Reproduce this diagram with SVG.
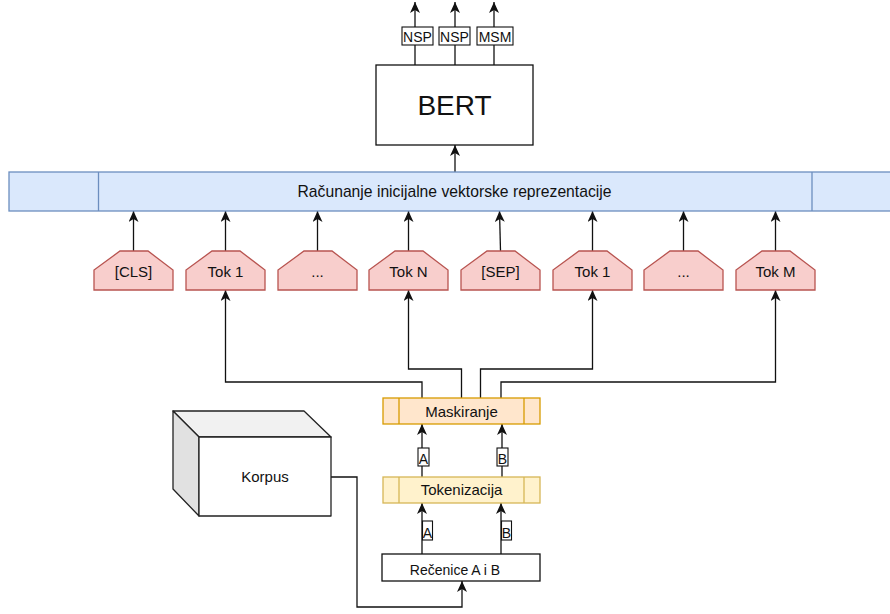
<svg xmlns="http://www.w3.org/2000/svg" width="890" height="614" viewBox="0 0 890 614">
  <style>
    text { font-family: "Liberation Sans", Arial, Helvetica, sans-serif; fill: #111; text-anchor: middle; }
    .t15 { font-size: 15px; }
    .t14 { font-size: 14px; }
    .edge { fill: none; stroke: #111; stroke-width: 1.3; }
    .tok { fill: #f8cecc; stroke: #b85450; stroke-width: 1.3; }
    .lbl { fill: #fff; stroke: #111; stroke-width: 1.1; }
    .box { fill: #fff; stroke: #111; stroke-width: 1.3; }
  </style>
  <defs>
    <marker id="arrow" viewBox="0 0 12 10" refX="11" refY="5" markerWidth="12" markerHeight="10" markerUnits="userSpaceOnUse" orient="auto">
      <path d="M0,0 L11,5 L0,10 L3,5 Z" fill="#111"/>
    </marker>
    <path id="tokShape" d="M0,39 V19 L26,0 H54 L79,19 V39 Z"/>
  </defs>

  <!-- connectors -->
  <g id="connectors">
    <!-- BERT outputs -->
    <path class="edge" d="M415,65 V2" marker-end="url(#arrow)"/>
    <path class="edge" d="M455,65 V2" marker-end="url(#arrow)"/>
    <path class="edge" d="M494,65 V2" marker-end="url(#arrow)"/>
    <!-- embedding layer to BERT -->
    <path class="edge" d="M455,172 V145" marker-end="url(#arrow)"/>
    <!-- tokens to embedding layer -->
    <path class="edge" d="M133.5,251 V211" marker-end="url(#arrow)"/>
    <path class="edge" d="M225.5,251 V211" marker-end="url(#arrow)"/>
    <path class="edge" d="M317.5,251 V211" marker-end="url(#arrow)"/>
    <path class="edge" d="M408.5,251 V211" marker-end="url(#arrow)"/>
    <path class="edge" d="M500.5,251 L499.5,211" marker-end="url(#arrow)"/>
    <path class="edge" d="M592.5,251 V211" marker-end="url(#arrow)"/>
    <path class="edge" d="M683.5,251 V211" marker-end="url(#arrow)"/>
    <path class="edge" d="M775.5,251 V211" marker-end="url(#arrow)"/>
    <!-- masking to tokens -->
    <path class="edge" d="M422,398 V382 H225.5 V290" marker-end="url(#arrow)"/>
    <path class="edge" d="M461.5,398 V369 H408.5 V290" marker-end="url(#arrow)"/>
    <path class="edge" d="M480.5,398 V369 H592.5 V290" marker-end="url(#arrow)"/>
    <path class="edge" d="M501,398 V382 H775.5 V290" marker-end="url(#arrow)"/>
    <!-- tokenization to masking -->
    <path class="edge" d="M422,477 V424" marker-end="url(#arrow)"/>
    <path class="edge" d="M502,477 V424" marker-end="url(#arrow)"/>
    <!-- sentences to tokenization -->
    <path class="edge" d="M422,554 V503" marker-end="url(#arrow)"/>
    <path class="edge" d="M501,554 V503" marker-end="url(#arrow)"/>
    <!-- corpus to sentences -->
    <path class="edge" d="M331,477 H357 V607 H462 V581" marker-end="url(#arrow)"/>

    <!-- edge labels -->
    <rect class="lbl" x="402" y="27" width="31" height="18"/>
    <text class="t14" x="417.5" y="41.5">NSP</text>
    <rect class="lbl" x="439" y="27" width="31" height="18"/>
    <text class="t14" x="454.5" y="41.5">NSP</text>
    <rect class="lbl" x="477" y="27" width="36" height="18"/>
    <text class="t14" x="495" y="41.5">MSM</text>

    <rect class="lbl" x="418" y="448" width="11" height="18"/>
    <text class="t14" x="423.5" y="463.5">A</text>
    <rect class="lbl" x="497" y="448" width="11" height="18"/>
    <text class="t14" x="502.5" y="463.5">B</text>

    <rect class="lbl" x="422.5" y="521" width="10" height="19"/>
    <text class="t14" x="427.5" y="537.5">A</text>
    <rect class="lbl" x="501.5" y="521" width="10" height="19"/>
    <text class="t14" x="506.5" y="537.5">B</text>
  </g>

  <!-- BERT model -->
  <g id="bert">
    <rect class="box" x="376" y="65" width="157" height="80"/>
    <text x="454.5" y="115" style="font-size:28px">BERT</text>
  </g>

  <!-- initial vector representation layer -->
  <g id="embedding">
    <rect x="9" y="172" width="890" height="39" fill="#dae8fc" stroke="#6c8ebf" stroke-width="1.3"/>
    <line x1="98.5" y1="172" x2="98.5" y2="211" stroke="#6c8ebf" stroke-width="1.3"/>
    <line x1="812" y1="172" x2="812" y2="211" stroke="#6c8ebf" stroke-width="1.3"/>
    <text x="454.5" y="196.5" style="font-size:15.7px">Računanje inicijalne vektorske reprezentacije</text>
  </g>

  <!-- input tokens -->
  <g id="tok-cls" transform="translate(94,251)">
    <use href="#tokShape" class="tok"/>
    <text class="t15" x="39.5" y="25.5">[CLS]</text>
  </g>
  <g id="tok-a1" transform="translate(186,251)">
    <use href="#tokShape" class="tok"/>
    <text class="t15" x="39.5" y="25.5">Tok 1</text>
  </g>
  <g id="tok-a-dots" transform="translate(278,251)">
    <use href="#tokShape" class="tok"/>
    <text class="t15" x="39.5" y="25.5">...</text>
  </g>
  <g id="tok-an" transform="translate(369,251)">
    <use href="#tokShape" class="tok"/>
    <text class="t15" x="39.5" y="25.5">Tok N</text>
  </g>
  <g id="tok-sep" transform="translate(461,251)">
    <use href="#tokShape" class="tok"/>
    <text class="t15" x="39.5" y="25.5">[SEP]</text>
  </g>
  <g id="tok-b1" transform="translate(553,251)">
    <use href="#tokShape" class="tok"/>
    <text class="t15" x="39.5" y="25.5">Tok 1</text>
  </g>
  <g id="tok-b-dots" transform="translate(644,251)">
    <use href="#tokShape" class="tok"/>
    <text class="t15" x="39.5" y="25.5">...</text>
  </g>
  <g id="tok-bm" transform="translate(736,251)">
    <use href="#tokShape" class="tok"/>
    <text class="t15" x="39.5" y="25.5">Tok M</text>
  </g>

  <!-- masking step -->
  <g id="maskiranje">
    <rect x="383" y="398" width="157" height="26" fill="#ffe6cc" stroke="#d79b00" stroke-width="1.3"/>
    <line x1="399" y1="398" x2="399" y2="424" stroke="#d79b00" stroke-width="1.3"/>
    <line x1="524" y1="398" x2="524" y2="424" stroke="#d79b00" stroke-width="1.3"/>
    <text class="t15" x="461.5" y="416.5">Maskiranje</text>
  </g>

  <!-- tokenization step -->
  <g id="tokenizacija">
    <rect x="383" y="477" width="157" height="26" fill="#fff2cc" stroke="#d6b656" stroke-width="1.3"/>
    <line x1="399" y1="477" x2="399" y2="503" stroke="#d6b656" stroke-width="1.3"/>
    <line x1="524" y1="477" x2="524" y2="503" stroke="#d6b656" stroke-width="1.3"/>
    <text class="t15" x="461.5" y="495">Tokenizacija</text>
  </g>

  <!-- sentence pair -->
  <g id="recenice">
    <rect class="box" x="382" y="554" width="158" height="27"/>
    <text class="t14" x="455" y="575">Rečenice A i B</text>
  </g>

  <!-- corpus (3D box) -->
  <g id="korpus" stroke="#222" stroke-width="1.3" stroke-linejoin="round">
    <path d="M173,411 H304 L331,437 H199 Z" fill="#f1f1f1"/>
    <path d="M173,411 L199,437 V516 L173,489 Z" fill="#e1e1e1"/>
    <rect x="199" y="437" width="132" height="79" fill="#fff"/>
    <text class="t15" x="265" y="482" stroke="none">Korpus</text>
  </g>
</svg>
